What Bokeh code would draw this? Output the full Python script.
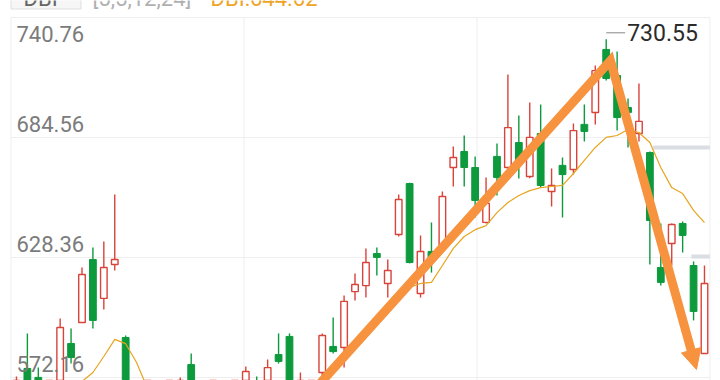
import numpy as np
from bokeh.plotting import figure
from bokeh.models import Range1d, Arrow, NormalHead, ColumnDataSource
from bokeh.embed import file_html
from bokeh.resources import INLINE
from bokeh.core.properties import value

# ---------------- data ----------------
opens = [562, 576.4, 572.2, 561, 566, 588.1, 597.9, 627.4, 609.2, 625.1,
         590.9, 562, 556, 560, 555, 558, 578.2, 566, 558, 564,
         559, 565, 569.5, 568, 582.9, 591.4, 563, 564, 574.5, 586.7,
         586.2, 612.4, 615.2, 630.2, 616.2, 639.1, 663.0, 611.5, 631.2, 633.0,
         670.5, 678.0, 670.5, 644.8, 675.7, 670.5, 682.2, 666.3, 686.4, 659.3,
         671.5, 669.6, 690.7, 696.3, 725.8, 713.6, 698.6, 686.4, 677.5, 623.7,
         634.9, 644.3, 624.6, 583.4]
highs = [572.6, 592.8, 576.8, 569, 599.8, 595.1, 623.7, 633.0, 635.9, 657.9,
         591.8, 569, 566, 568, 567, 572.2, 583.4, 569.5, 567, 569,
         568, 577.3, 572.6, 580.6, 592.8, 592.8, 574.5, 569.5, 592.8, 600.3,
         610.6, 620.9, 632.6, 633.0, 627.4, 657.9, 663.4, 638.7, 644.8, 659.3,
         680.3, 685.5, 675.7, 665.8, 681.8, 714.1, 694.9, 701.0, 700.0, 670.0,
         675.2, 691.1, 700.0, 718.3, 730.55, 724.8, 702.8, 709.9, 678.0, 644.3,
         644.3, 645.2, 626.5, 624.6]
lows = [556, 560, 562, 555, 563, 578.7, 597.9, 595.1, 604.0, 622.3,
        556, 552, 548, 551, 550, 555, 560, 556, 552, 557,
        554, 562, 563, 565, 578.7, 562, 560, 560, 571.7, 583.4,
        576.8, 608.2, 609.6, 619.9, 609.6, 638.2, 625.6, 609.6, 621.3, 632.0,
        661.6, 661.6, 647.1, 644.3, 657.4, 670.0, 665.4, 665.5, 661.1, 652.2,
        647.1, 667.2, 682.7, 690.7, 711.3, 687.8, 679.9, 682.7, 625.1, 615.2,
        624.6, 630.7, 598.9, 583.4]
closes = [569, 564, 566, 566, 595.6, 581.5, 620.4, 598.9, 623.7, 627.4,
          560, 556, 562, 554, 563, 568, 565, 559, 564, 560,
          566, 575.0, 566, 576.8, 579.7, 566, 570, 568, 591.8, 584.3,
          607.8, 615.7, 626.0, 628.4, 622.3, 655.5, 626.0, 631.2, 628.4, 656.9,
          675.2, 670.5, 655.1, 653.7, 665.8, 689.2, 673.8, 684.6, 662.1, 662.1,
          667.2, 687.8, 687.4, 715.9, 712.2, 693.9, 696.3, 692.1, 645.7, 616.7,
          643.8, 638.7, 603.1, 616.2]
ma_line = [560, 559, 558, 559, 562, 566, 570.3, 574.5, 582, 590,
           588, 579.2, 567, 558, 552, 549, 548, 547, 547, 548,
           550, 552, 553, 555, 557, 559, 561, 565.5, 571.7, 577.3,
           582.9, 588.6, 593.7, 599.3, 604.5, 610.1, 614.3, 616.2, 616.7, 624.6,
           632.6, 638.2, 641.4, 643.3, 649.4, 654.1, 657.4, 659.7, 661.1, 661.6,
           662.1, 667.7, 673.8, 679.9, 684.6, 685.5, 688.3, 686.9, 682.2, 670.5,
           661.1, 658.3, 650.4, 644.7]
tick_values = [740.76, 684.56, 628.36, 572.16]
tick_labels = ["740.76", "684.56", "628.36", "572.16"]
peak_label = "730.55"
header_name = "DBI"
header_params = "[5,5,12,24]"
header_value = "DBI:644.62"
# hand-drawn trend arrow (bar index, price)
trend_x = [27.47, 54.39, 62.27]
trend_y = [567.5, 720.6, 575.9]
# grey price markers at the right edge (price, starting bar index)
marker_levels = [679.9, 628.8]
marker_start = [58.3, 61.8]

# ---------------- layout ----------------
W, H = 720, 380
n = len(opens)
bar_px = 10.921
box_left, box_right = -0.5, n - 0.5
x_start = box_left - 10.5 / bar_px
x_end = x_start + W / bar_px
tmax, tmin = max(tick_values), min(tick_values)
unit_px = 360.0 / (tmax - tmin)
y_end = tmax + 17 / unit_px
y_start = y_end - H / unit_px

def px_x(px):
    return x_start + px / bar_px

def px_y(py):
    return y_end - py / unit_px

RED = "#d8433a"
GREEN = "#0c9a3d"
ORANGE = "#f7923e"
GRID = "#eeeeee"

p = figure(width=W, height=H, x_range=Range1d(x_start, x_end), y_range=Range1d(y_start, y_end),
           output_backend="svg", toolbar_location=None, min_border=0,
           x_axis_location=None, y_axis_location=None,
           background_fill_color="white", border_fill_color="white", outline_line_color=None)
p.grid.visible = False

# frame + grid
p.segment(x0=[box_left] * len(tick_values), x1=[box_right] * len(tick_values),
          y0=tick_values, y1=tick_values, line_color=GRID, line_width=1)
vx = [box_left + k * (box_right - box_left) / 3 for k in range(4)]
p.segment(x0=vx, x1=vx, y0=[y_start] * 4, y1=[tmax] * 4, line_color=GRID, line_width=1)

# grey price markers
p.segment(x0=marker_start, x1=[box_right] * len(marker_levels), y0=marker_levels, y1=marker_levels,
          line_color="#dadee3", line_width=4)

# candles
idx = np.arange(n)
o = np.array(opens); c = np.array(closes); h = np.array(highs); l = np.array(lows)
up = c >= o
colors = [RED if u else GREEN for u in up]
p.segment(x0=idx, x1=idx, y0=h, y1=l, line_color=colors, line_width=1.4)
p.vbar(x=idx[up], width=0.6, top=c[up], bottom=o[up], fill_color="white",
       line_color=RED, line_width=1.4)
p.vbar(x=idx[~up], width=0.62, top=o[~up], bottom=c[~up], fill_color=GREEN,
       line_color=GREEN, line_width=1)

# moving average
p.line(idx, ma_line, line_color="#e6a51f", line_width=1.2)

# tick labels
lab_off = [16 if v == tmax else -14 for v in tick_values]
src = ColumnDataSource(dict(x=[box_left + 5.5 / bar_px] * len(tick_values), y=tick_values,
                            t=tick_labels, off=lab_off))
p.text(x="x", y="y", text="t", y_offset="off", source=src, text_font=value("Roboto"),
       text_font_size="22px", text_color="#7b7b7b", text_baseline="middle", text_align="left")

# peak label
pk = int(np.argmax(h))
p.segment(x0=[pk], x1=[pk + 19 / bar_px], y0=[h[pk] + 6.5 / unit_px], y1=[h[pk] + 6.5 / unit_px],
          line_color="#888888", line_width=1)
p.text(x=[pk + 21 / bar_px], y=[h[pk] + 6.5 / unit_px], text=[peak_label], text_font=value("Roboto"),
       text_font_size="23px", text_color="#2b2b2b", text_baseline="middle", text_align="left")

# header (cut off at the top edge, as in the source screenshot)
p.quad(left=[px_x(10.5)], right=[px_x(80.5)], top=[px_y(-12)], bottom=[px_y(8.5)],
       fill_color="#f6f6f6", line_color="#e0e0e0", line_width=1)
p.text(x=[px_x(23), px_x(92), px_x(210)], y=[px_y(-2)] * 3,
       text=[header_name, header_params, header_value], text_font=value("Roboto"),
       text_font_size="22px", text_color=["#666666", "#b0b0b0", "#f0a427"],
       text_baseline="alphabetic", text_align="left")

# trend arrow
sx = (trend_x[2] - trend_x[1]) * bar_px
sy = (trend_y[2] - trend_y[1]) * unit_px
L = (sx ** 2 + sy ** 2) ** 0.5
head = 20.0
cut = (L - head * 0.8) / L
ex = trend_x[1] + (trend_x[2] - trend_x[1]) * cut
ey = trend_y[1] + (trend_y[2] - trend_y[1]) * cut
p.line([trend_x[0], trend_x[1], ex], [trend_y[0], trend_y[1], ey], line_color=ORANGE,
       line_width=9, line_join="miter")
p.add_layout(Arrow(end=NormalHead(size=head, fill_color=ORANGE, line_color=ORANGE, line_width=1),
                   x_start=ex, y_start=ey, x_end=trend_x[2], y_end=trend_y[2],
                   line_alpha=0, line_width=1))

open("out.html", "w").write(file_html(p, INLINE))
